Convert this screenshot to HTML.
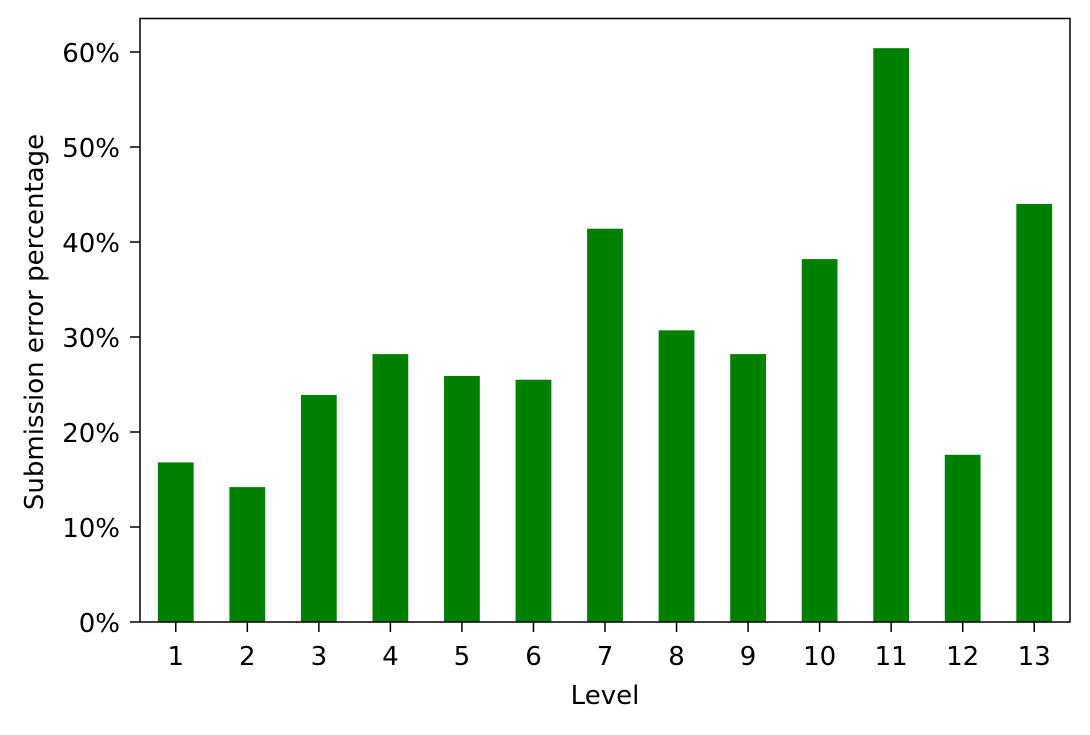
<!DOCTYPE html>
<html><head><meta charset="utf-8"><style>
body{margin:0;background:#fff;}
svg text{font-family:"DejaVu Sans","Liberation Sans",sans-serif;fill:#000;}
</style></head><body>
<svg id="chart" width="1090" height="730" xmlns="http://www.w3.org/2000/svg">
<g id="bars"></g>
<g id="xticks"></g>
<g id="yticks"></g>
<rect x="140" y="18.5" width="930" height="603.5" fill="none" stroke="#000" stroke-width="1.5"/>
<text x="605" y="704" font-size="26" text-anchor="middle">Level</text>
<text transform="translate(43,322) rotate(-90)" font-size="26" text-anchor="middle">Submission error percentage</text>
</svg>
<script>
const categories=["1","2","3","4","5","6","7","8","9","10","11","12","13"];
const values=[16.8,14.2,23.9,28.2,25.9,25.5,41.4,30.7,28.2,38.2,60.4,17.6,44.0];
const yTicks=[0,10,20,30,40,50,60];
const yTickLabels=["0%","10%","20%","30%","40%","50%","60%"];
const L=140,R=1070,B=622,pxPer=9.5;
const NS="http://www.w3.org/2000/svg";
const step=(R-L)/categories.length;
const xs=i=>L+step*(i+0.5);
const ys=v=>B-v*pxPer;
const bars=document.getElementById('bars'),xt=document.getElementById('xticks'),yt=document.getElementById('yticks');
function mk(t,a){const e=document.createElementNS(NS,t);for(const k in a)e.setAttribute(k,a[k]);return e;}
categories.forEach((c,i)=>{
 const w=step*0.5;
 const r=mk('rect',{x:xs(i)-w/2,y:ys(values[i]),width:w,height:B-ys(values[i]),fill:'#008000'});
 
 
 bars.appendChild(r);
 const tk=mk('line',{x1:xs(i),x2:xs(i),y1:B,y2:B+10,stroke:'#000','stroke-width':1.5});
 
 
 xt.appendChild(tk);
 const tx=mk('text',{x:xs(i),y:665,'font-size':26,'text-anchor':'middle'});
 tx.textContent=c;
 
 
 xt.appendChild(tx);
});
yTicks.forEach((v,i)=>{
 const tk=mk('line',{x1:L-10,x2:L,y1:ys(v),y2:ys(v),stroke:'#000','stroke-width':1.5});
 
 
 yt.appendChild(tk);
 const tx=mk('text',{x:L-20,y:ys(v)+10,'font-size':26,'text-anchor':'end'});
 tx.textContent=yTickLabels[i];
 
 
 yt.appendChild(tx);
});
</script>
</body></html>
